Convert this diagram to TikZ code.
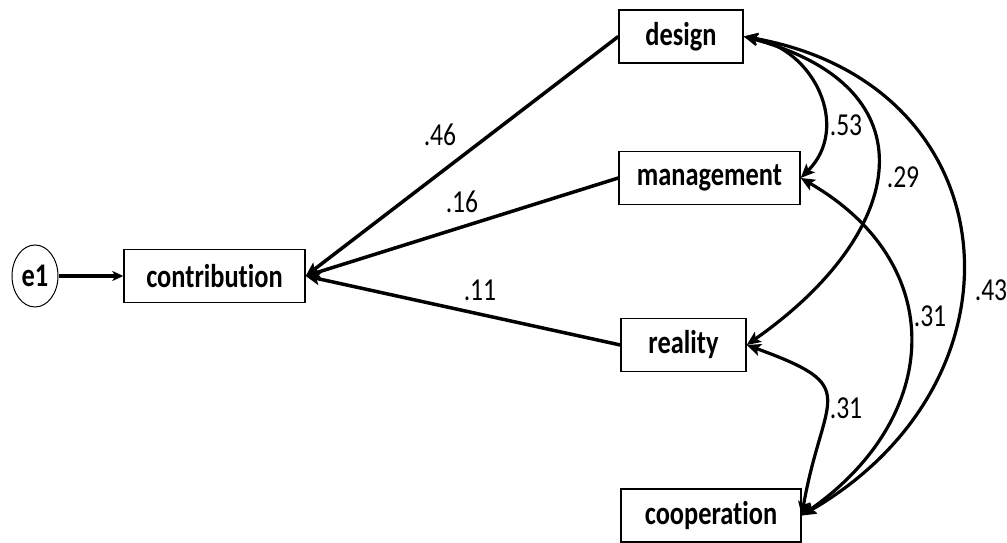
\documentclass[tikz,border=0pt]{standalone}
\usepackage{fontspec}
\setmainfont{Carlito}[Ligatures=NoCommon, FakeStretch=0.8]
\usetikzlibrary{arrows.meta,shapes.geometric}
\begin{document}
\begin{tikzpicture}[x=1pt,y=1pt,
    obs/.style={draw, line width=1.4pt, minimum height=53pt, inner sep=0pt,
        font=\fontsize{33}{38}\selectfont\bfseries},
    err/.style={draw, ellipse, line width=1pt, minimum width=46pt, minimum height=62pt,
        inner sep=0pt, font=\fontsize{33}{38}\selectfont\bfseries},
    regpath/.style={line width=3.5pt, -{Stealth[length=14pt,width=12pt,inset=3pt]}},
    covpath/.style={line width=3.2pt,
        {Stealth[length=14pt,width=12pt,inset=3pt]}-{Stealth[length=14pt,width=12pt,inset=3pt]}},
    coef/.style={font=\fontsize{32}{38}\selectfont, inner sep=0pt}]
    \useasboundingbox (0,0) rectangle (1007,543);
    % variables
    \node [err] (e1) at (35,267) {e1};
    \node [obs, minimum width=181pt] (contribution) at (214.5,267) {contribution};
    \node [obs, minimum width=124pt] (design) at (681,506.5) {design};
    \node [obs, minimum width=181pt] (management) at (709.5,365) {management};
    \node [obs, minimum width=125pt] (reality) at (683.5,198) {reality};
    \node [obs, minimum width=180pt] (cooperation) at (711,27.5) {cooperation};
    % regression paths
    \draw [line width=3.5pt, -{Stealth[length=11pt,width=10pt,inset=3pt]}] (e1) -- (contribution);
    \draw [regpath] (design.west) -- (contribution.east);
    \draw [regpath] (management.west) -- (contribution.east);
    \draw [regpath] (reality.west) -- (contribution.east);
    \node [coef] (c46) at (440,408) {.46};
    \node [coef] (c16) at (462,341) {.16};
    \node [coef] (c11) at (480,253) {.11};
    % covariances
    \draw [covpath] (design.east) to[out=-10,in=45,looseness=1.2] (management.east);
    \draw [covpath] (design.east) to[out=-15,in=35,looseness=1.63] (reality.east);
    \draw [covpath] (design.east) to[out=-10,in=30,looseness=1.44] (cooperation.east);
    \draw [covpath] (management.east) to[out=-30,in=35,looseness=1.3] (cooperation.east);
    \draw [covpath] (reality.east) to[out=-20,in=80,looseness=1.78] (cooperation.east);
    \node [coef] (c53) at (846,418) {.53};
    \node [coef] (c29) at (903,366) {.29};
    \node [coef] (c43) at (991,253) {.43};
    \node [coef] (c31a) at (930,227) {.31};
    \node [coef] (c31b) at (846,135) {.31};
\end{tikzpicture}
\end{document}
